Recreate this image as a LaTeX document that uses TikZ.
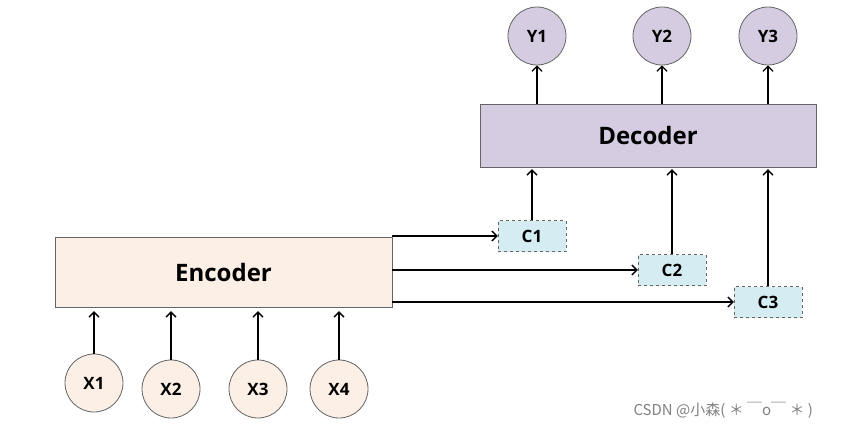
\documentclass[tikz,border=0pt]{standalone}
\usepackage{fontspec}
\setmainfont{Open Sans}
\newfontfamily\cjk{Noto Sans CJK SC}
\usepackage{xcolor}
\usetikzlibrary{arrows.meta}
\definecolor{decfill}{RGB}{213,204,226}
\definecolor{encfill}{RGB}{252,239,229}
\definecolor{ctxfill}{RGB}{214,236,243}
\definecolor{edgegray}{RGB}{100,100,100}

\begin{document}
\begin{tikzpicture}[x=1pt,y=1pt,yscale=-1,xscale=1,
        >={Straight Barb[length=5pt,width=10pt]},
        ycirc/.style={circle,draw=edgegray,line width=0.8pt,fill=decfill,minimum size=58pt,inner sep=0pt,font=\fontsize{17}{19}\selectfont\bfseries},
        xcirc/.style={circle,draw=edgegray,line width=0.8pt,fill=encfill,minimum size=58pt,inner sep=0pt,font=\fontsize{17}{19}\selectfont\bfseries},
        ctxbox/.style={draw=edgegray,dashed,fill=ctxfill,minimum width=68pt,minimum height=31pt,inner sep=0pt,font=\fontsize{17}{19}\selectfont\bfseries},
        arr/.style={->,line width=1.3pt}]
        \useasboundingbox (0,0) rectangle (844,428);

        %Shape: Decoder and outputs
        \node[draw=edgegray,fill=decfill,minimum width=336pt,minimum height=63pt,inner sep=0pt,font=\fontsize{24}{28}\selectfont\bfseries] (dec) at (648,135.5) {Decoder};
        \node[ycirc] (y1) at (537,36) {Y1};
        \node[ycirc] (y2) at (662,36) {Y2};
        \node[ycirc] (y3) at (768,36) {Y3};

        %Shape: Context vectors
        \node[ctxbox] (c1) at (532,236) {C1};
        \node[ctxbox] (c2) at (672,270) {C2};
        \node[ctxbox] (c3) at (768,302) {C3};

        %Shape: Encoder and inputs
        \node[draw=edgegray,fill=encfill,minimum width=337pt,minimum height=70pt,inner sep=0pt,font=\fontsize{24}{28}\selectfont\bfseries] (enc) at (223.5,272) {Encoder};
        \node[xcirc] (x1) at (94,383) {X1};
        \node[xcirc] (x2) at (171,389) {X2};
        \node[xcirc] (x3) at (258,389) {X3};
        \node[xcirc] (x4) at (339,389) {X4};

        % Arrows
        \draw[arr] (y1 |- dec.north) -- (y1.south);
        \draw[arr] (y2 |- dec.north) -- (y2.south);
        \draw[arr] (y3 |- dec.north) -- (y3.south);
        \draw[arr,shorten >=2pt] (c1.north) -- (c1.north |- dec.south);
        \draw[arr,shorten >=2pt] (c2.north) -- (c2.north |- dec.south);
        \draw[arr,shorten >=2pt] (c3.north) -- (c3.north |- dec.south);
        \draw[arr] (enc.east |- c1) -- (c1.west);
        \draw[arr] (enc.east |- c2) -- (c2.west);
        \draw[arr] (enc.east |- c3) -- (c3.west);
        \draw[arr,shorten >=4pt] (x1.north) -- (x1 |- enc.south);
        \draw[arr,shorten >=4pt] (x2.north) -- (x2 |- enc.south);
        \draw[arr,shorten >=4pt] (x3.north) -- (x3 |- enc.south);
        \draw[arr,shorten >=4pt] (x4.north) -- (x4 |- enc.south);

        % Text Node
        \node[anchor=west,text=gray,font=\cjk\fontsize{15}{17}\selectfont] (mark) at (630,410) {CSDN @小森( ＊ ￣o￣ ＊ )};
\end{tikzpicture}
\end{document}
